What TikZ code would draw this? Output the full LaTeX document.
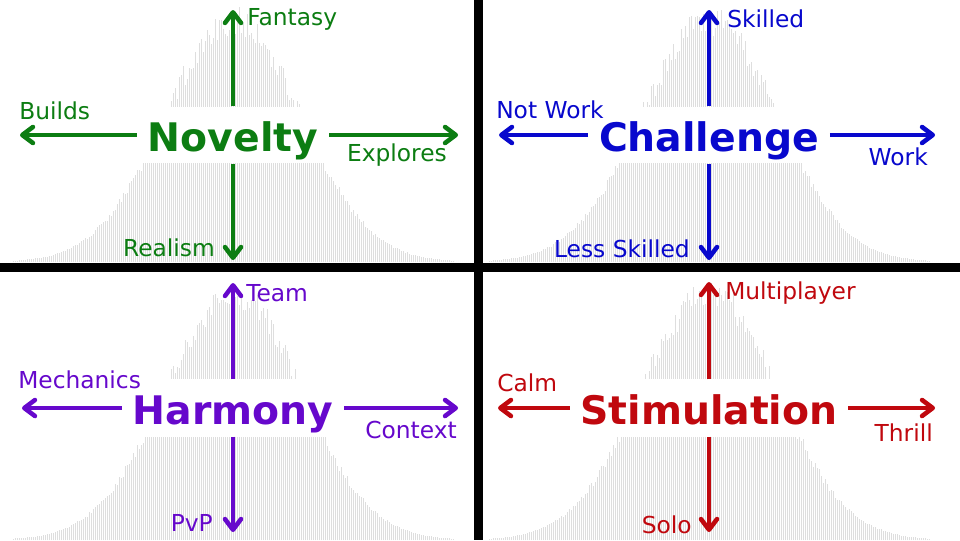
\documentclass[tikz,border=0pt]{standalone}
\usepackage{fontspec}
\setmainfont{DejaVu Sans}
\usetikzlibrary{arrows.meta}

\definecolor{novvert}{RGB}{12,125,18}
\definecolor{chalbleu}{RGB}{8,8,205}
\definecolor{harmviolet}{RGB}{102,8,204}
\definecolor{stimrouge}{RGB}{192,8,14}

\begin{document}
\begin{tikzpicture}[x=0.75pt, y=-0.75pt]
\tikzset{titre/.style={font=\bfseries\fontsize{29.5}{36}\selectfont, inner xsep=8pt, minimum height=42.5pt, text height=28pt, text depth=3.5pt},
  etiq/.style={font=\fontsize{17.5}{21}\selectfont, inner sep=0pt},
  fleche/.style={line width=3.4pt, -{Straight Barb[length=8pt, width=12pt, round]}},
  barre/.style={draw=black!13, line width=0.75pt},
  separ/.style={line width=6.75pt}}
\fill[white] (0,0) rectangle (960,540);
\useasboundingbox (0,0) rectangle (960,540);
% histogrammes en fond
\pgfmathsetseed{7}
\foreach \cx/\yb/\hh in {233/262/257, 709/262/257, 233/540/263, 709/540/263}{
  \foreach \i in {-220,-218,...,220}{
    \pgfmathsetmacro{\bh}{\hh*exp(-0.5*(\i/68)*(\i/68))*(0.88+0.12*rnd)}
    \draw[barre] (\cx+\i,\yb) -- ++(0,-\bh);
  }
}
\fill[white] (0,107) rectangle (960,163);
\fill[white] (0,379) rectangle (960,437);
% Novelty
\node[titre, novvert] (T1) at (233,135) {Novelty};
\coordinate (T1h) at (233,10);
\coordinate (T1b) at (233,260);
\coordinate (T1g) at (20,135);
\coordinate (T1d) at (458,135);
\draw[fleche, novvert] (T1.north) -- (T1h);
\draw[fleche, novvert] (T1.south) -- (T1b);
\draw[fleche, novvert] (T1.west) -- (T1g);
\draw[fleche, novvert] (T1.east) -- (T1d);
\node[etiq, novvert, anchor=west] (L1h) at (247,19) {Fantasy};
\node[etiq, novvert, anchor=west] (L1g) at (19,111) {Builds};
\node[etiq, novvert, anchor=east] (L1d) at (447,155) {Explores};
\node[etiq, novvert, anchor=east] (L1b) at (215,248) {Realism};
% Challenge
\node[titre, chalbleu] (T2) at (709,135) {Challenge};
\coordinate (T2h) at (709,10);
\coordinate (T2b) at (709,260);
\coordinate (T2g) at (499,135);
\coordinate (T2d) at (935,135);
\draw[fleche, chalbleu] (T2.north) -- (T2h);
\draw[fleche, chalbleu] (T2.south) -- (T2b);
\draw[fleche, chalbleu] (T2.west) -- (T2g);
\draw[fleche, chalbleu] (T2.east) -- (T2d);
\node[etiq, chalbleu, anchor=west] (L2h) at (727,19) {Skilled};
\node[etiq, chalbleu, anchor=west] (L2g) at (496,110) {Not Work};
\node[etiq, chalbleu, anchor=east] (L2d) at (928,157) {Work};
\node[etiq, chalbleu, anchor=east] (L2b) at (690,249) {Less Skilled};
% Harmony
\node[titre, harmviolet] (T3) at (233,408) {Harmony};
\coordinate (T3h) at (233,283);
\coordinate (T3b) at (233,532);
\coordinate (T3g) at (22,408);
\coordinate (T3d) at (458,408);
\draw[fleche, harmviolet] (T3.north) -- (T3h);
\draw[fleche, harmviolet] (T3.south) -- (T3b);
\draw[fleche, harmviolet] (T3.west) -- (T3g);
\draw[fleche, harmviolet] (T3.east) -- (T3d);
\node[etiq, harmviolet, anchor=west] (L3h) at (246,293) {Team};
\node[etiq, harmviolet, anchor=west] (L3g) at (18,380) {Mechanics};
\node[etiq, harmviolet, anchor=east] (L3d) at (457,430) {Context};
\node[etiq, harmviolet, anchor=east] (L3b) at (213,523) {PvP};
% Stimulation
\node[titre, stimrouge] (T4) at (709,408) {Stimulation};
\coordinate (T4h) at (709,282);
\coordinate (T4b) at (709,532);
\coordinate (T4g) at (498,408);
\coordinate (T4d) at (935,408);
\draw[fleche, stimrouge] (T4.north) -- (T4h);
\draw[fleche, stimrouge] (T4.south) -- (T4b);
\draw[fleche, stimrouge] (T4.west) -- (T4g);
\draw[fleche, stimrouge] (T4.east) -- (T4d);
\node[etiq, stimrouge, anchor=west] (L4h) at (725,293) {Multiplayer};
\node[etiq, stimrouge, anchor=west] (L4g) at (497,383) {Calm};
\node[etiq, stimrouge, anchor=east] (L4d) at (933,433) {Thrill};
\node[etiq, stimrouge, anchor=east] (L4b) at (692,525) {Solo};
% separations
\draw[separ] (478,0) -- (478,540);
\draw[separ] (0,267.5) -- (960,267.5);
\end{tikzpicture}
\end{document}
